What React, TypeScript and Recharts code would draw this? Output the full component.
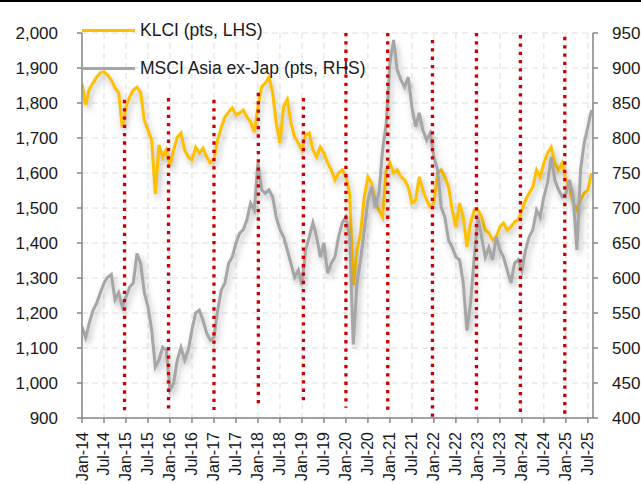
import { LineChart, Line, XAxis, YAxis, CartesianGrid, ReferenceLine } from "recharts";

// ─────────────────────────────────────────────────────────────────────────────
// Data — monthly readings, index 0 = Jan-14
// ─────────────────────────────────────────────────────────────────────────────

const klci = [
  1855, 1795, 1840, 1857, 1874, 1886, 1889, 1880, 1866, 1843, 1829, 1730,
  1789, 1817, 1837, 1845, 1830, 1750, 1723, 1694, 1540, 1680, 1646, 1666,
  1620, 1666, 1703, 1714, 1666, 1646, 1637, 1674, 1657, 1671, 1646, 1629,
  1640, 1694, 1731, 1760, 1774, 1786, 1766, 1771, 1780, 1760, 1746, 1717,
  1789, 1846, 1857, 1874, 1830, 1743, 1686, 1790, 1810, 1743, 1703, 1686,
  1666, 1710, 1714, 1666, 1646, 1674, 1657, 1629, 1609, 1580, 1600, 1609,
  1591, 1543, 1280, 1380, 1429, 1531, 1589, 1571, 1514, 1494, 1474, 1609,
  1629, 1600, 1609, 1589, 1580, 1560, 1514, 1523, 1589, 1551, 1523, 1503,
  1514, 1600, 1609, 1589, 1560, 1494, 1446, 1514, 1474, 1389, 1457, 1494,
  1494, 1474, 1437, 1429, 1409, 1417, 1446, 1457, 1437, 1446, 1460, 1466,
  1494, 1523, 1543, 1560, 1609, 1589, 1629, 1657, 1674, 1629, 1609, 1629,
  1580, 1560, 1514, 1494, 1523, 1543, 1551, 1600,
];

const msci = [
  530, 515, 536, 554, 564, 579, 593, 601, 605, 569, 579, 559,
  573, 587, 593, 635, 621, 579, 559, 526, 473, 483, 501, 497,
  440, 450, 483, 501, 483, 497, 526, 550, 554, 540, 521, 511,
  515, 554, 583, 593, 621, 630, 650, 664, 669, 683, 707, 697,
  765, 726, 721, 726, 716, 687, 669, 659, 640, 621, 601, 611,
  590, 640, 659, 679, 659, 630, 650, 607, 621, 630, 659, 679,
  687, 659, 505, 593, 626, 669, 711, 730, 701, 721, 783, 821,
  907, 940, 897, 883, 873, 887, 844, 816, 836, 811, 797, 807,
  773, 754, 701, 687, 654, 644, 630, 626, 593, 525, 564, 630,
  687, 659, 630, 644, 626, 659, 640, 630, 611, 593, 621, 626,
  611, 640, 659, 669, 697, 687, 716, 736, 773, 740, 726, 716,
  721, 740, 716, 640, 754, 793, 816, 840,
];

const xTickLabels = [
  "Jan-14", "Jul-14", "Jan-15", "Jul-15", "Jan-16", "Jul-16", "Jan-17", "Jul-17",
  "Jan-18", "Jul-18", "Jan-19", "Jul-19", "Jan-20", "Jul-20", "Jan-21", "Jul-21",
  "Jan-22", "Jul-22", "Jan-23", "Jul-23", "Jan-24", "Jul-24", "Jan-25", "Jul-25",
];

const leftTicks  = [900, 1000, 1100, 1200, 1300, 1400, 1500, 1600, 1700, 1800, 1900, 2000];
const rightTicks = [400, 450, 500, 550, 600, 650, 700, 750, 800, 850, 900, 950];

// dotted markers: month position, top and bottom (LHS units)
const eventMonths  = [11.6, 23.6, 36, 48.1, 60.4, 72, 83.4, 95.6, 107.6, 119.6, 131.7];
const eventTops    = [1809, 1814, 1809, 1829, 1814, 2000, 2000, 1980, 2000, 1994, 1989];
const eventBottoms = [914, 923, 923, 937, 937, 929, 923, 903, 917, 911, 911];

// ─────────────────────────────────────────────────────────────────────────────
// Helpers
// ─────────────────────────────────────────────────────────────────────────────

const data = klci.map((v, i) => ({ m: i, klci: v, msci: msci[i] }));
const xTicks = xTickLabels.map((_, i) => i * 6);

const FONT = "Arial, 'Liberation Sans', sans-serif";
const TEXT = "#1a1a1a";
const AXIS = "#878787";

function XTick({ x, y, payload }: any) {
  return (
    <text
      x={x} y={y}
      transform={`rotate(-90, ${x}, ${y})`}
      textAnchor="end" dominantBaseline="central"
      fontSize={16} fontFamily={FONT} fill={TEXT}
    >
      {xTickLabels[Math.round(payload.value / 6)]}
    </text>
  );
}

function LegendRow({ color, label, top }: { color: string; label: string; top: number }) {
  return (
    <div style={{ position: "absolute", left: 82, top: top - 11, height: 22, display: "flex", alignItems: "center" }}>
      <div style={{ width: 53, height: 3, background: color }} />
      <span style={{ marginLeft: 5, fontSize: 17.5, fontFamily: FONT, color: TEXT, whiteSpace: "nowrap" }}>{label}</span>
    </div>
  );
}

// ─────────────────────────────────────────────────────────────────────────────
// Chart
// ─────────────────────────────────────────────────────────────────────────────

export default function App() {
  return (
    <div style={{ position: "absolute", left: 0, top: 0, width: 641, height: 484, background: "#fff", overflow: "hidden" }}>
      <style>{`
        .shadowed .recharts-line-curve { filter: drop-shadow(2px 4px 3px rgba(0,0,0,0.28)); }
      `}</style>
      <div style={{ position: "absolute", left: 0, top: 0, width: 641, height: 2, background: "#000" }} />

      <LineChart width={641} height={484} data={data} margin={{ top: 33, right: 0, bottom: 0, left: 0 }}>
        <CartesianGrid yAxisId="left" stroke="#dedede" strokeDasharray="6 4" strokeWidth={1} />

        <XAxis
          dataKey="m" type="number" domain={[0, 139.4]} ticks={xTicks} interval={0}
          height={66} tick={<XTick />}
          stroke={AXIS} strokeWidth={1.5} tickSize={5} tickMargin={9}
          allowDataOverflow
        />
        <YAxis
          yAxisId="left" domain={[900, 2000]} ticks={leftTicks} width={82} interval={0}
          tickFormatter={(v: number) => v.toLocaleString("en-US")}
          tick={{ fontSize: 17, fill: TEXT, fontFamily: FONT }}
          stroke={AXIS} strokeWidth={1.5} tickSize={5} tickMargin={19}
        />
        <YAxis
          yAxisId="right" orientation="right" domain={[400, 950]} ticks={rightTicks} width={48} interval={0}
          tick={{ fontSize: 17, fill: TEXT, fontFamily: FONT, textAnchor: "start" }}
          stroke={AXIS} strokeWidth={1.5} tickSize={5} tickMargin={14}
        />

        <Line
          className="shadowed" yAxisId="left" dataKey="klci" type="linear"
          stroke="#FFC000" strokeWidth={3} dot={false} activeDot={false}
          isAnimationActive={false}
        />
        <Line
          className="shadowed" yAxisId="right" dataKey="msci" type="linear"
          stroke="#A6A6A6" strokeWidth={3} dot={false} activeDot={false}
          isAnimationActive={false}
        />

        {eventMonths.map((m, i) => (
          <ReferenceLine
            key={m}
            yAxisId="left"
            segment={[{ x: m, y: eventTops[i] }, { x: m, y: eventBottoms[i] }]}
            stroke="#CC0000" strokeWidth={3.3} strokeDasharray="3.3 5"
            ifOverflow="visible"
          />
        ))}
      </LineChart>

      <LegendRow color="#FFC000" label="KLCI (pts, LHS)" top={30} />
      <LegendRow color="#A6A6A6" label="MSCI Asia ex-Jap (pts, RHS)" top={68} />
    </div>
  );
}
